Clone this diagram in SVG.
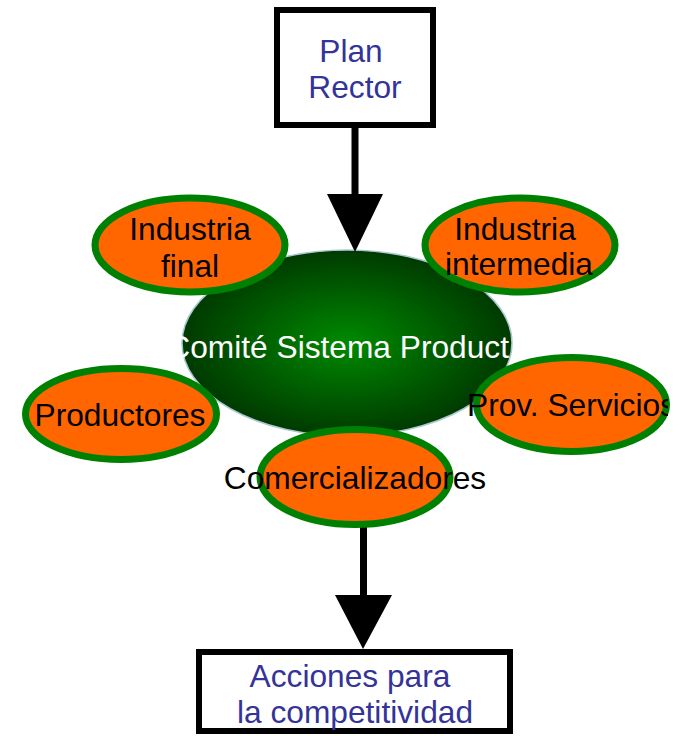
<svg xmlns="http://www.w3.org/2000/svg" width="682" height="736" viewBox="0 0 682 736">
<style>
text{font-family:"Liberation Sans",Arial,sans-serif;font-size:31.7px;text-anchor:middle}
.box{fill:#fff;stroke:#000;stroke-width:6}
.blue{fill:#333399}
.blk{fill:#000}
.sat{fill:#FF6600;stroke:#008000;stroke-width:7}
.line{stroke:#000;stroke-width:7;fill:none}
</style>
<defs>
<radialGradient id="g" cx="50%" cy="50%" r="50%">
<stop offset="0" stop-color="#008a00"/>
<stop offset="1" stop-color="#003a00"/>
</radialGradient>
<clipPath id="cc"><rect x="180" y="320" width="330" height="50"/></clipPath>
<clipPath id="cp"><rect x="440" y="380" width="228" height="50"/></clipPath>
</defs>
<g id="plan-rector">
<rect class="box" x="277" y="10" width="156" height="115"/>
<text class="blue" x="351" y="62">Plan</text>
<text class="blue" x="355" y="98">Rector</text>
</g>
<g id="comite">
<ellipse cx="347" cy="343" rx="165" ry="93" fill="url(#g)" stroke="#a8c8d0" stroke-width="1.5"/>
<text x="509" y="358" fill="#fff" style="text-anchor:end" clip-path="url(#cc)">Comité Sistema Product</text>
</g>
<g id="connectors">
<line class="line" x1="355" y1="125" x2="355" y2="196"/>
<polygon points="327,194 383,194 355,252" fill="#000"/>
<line class="line" x1="363.5" y1="526" x2="363.5" y2="597"/>
<polygon points="335,595 392,595 363,649" fill="#000"/>
</g>
<g id="industria-final">
<ellipse class="sat" cx="190" cy="245" rx="95" ry="47"/>
<text class="blk" x="190" y="240">Industria</text>
<text class="blk" x="190" y="277">final</text>
</g>
<g id="industria-intermedia">
<ellipse class="sat" cx="520" cy="245" rx="95" ry="47"/>
<text class="blk" x="515" y="240">Industria</text>
<text class="blk" x="519" y="275">intermedia</text>
</g>
<g id="productores">
<ellipse class="sat" cx="121" cy="414" rx="95.5" ry="45.5"/>
<text class="blk" x="120" y="426">Productores</text>
</g>
<g id="prov-servicios">
<ellipse class="sat" cx="571.5" cy="404.5" rx="95" ry="47"/>
<text class="blk" x="467" y="416" style="text-anchor:start" clip-path="url(#cp)">Prov. Servicios</text>
</g>
<g id="comercializadores">
<ellipse class="sat" cx="355" cy="477" rx="95" ry="47.5"/>
<text class="blk" x="355" y="489">Comercializadores</text>
</g>
<g id="acciones">
<rect class="box" x="199" y="652" width="311" height="79"/>
<text class="blue" x="350" y="687">Acciones para</text>
<text class="blue" x="355" y="723">la competitividad</text>
</g>
</svg>
